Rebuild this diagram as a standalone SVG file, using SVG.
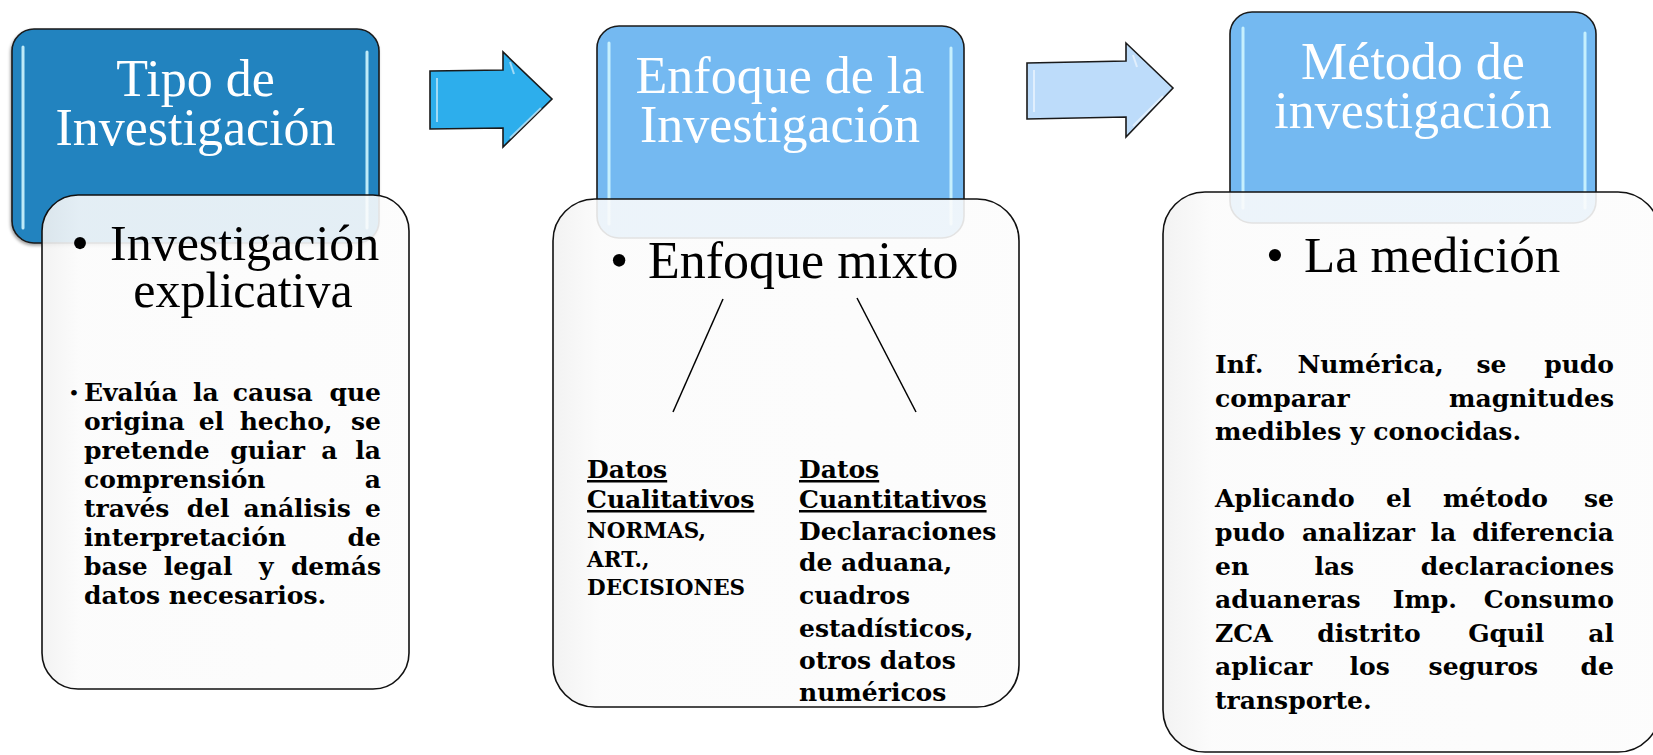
<svg xmlns="http://www.w3.org/2000/svg" width="1653" height="755" viewBox="0 0 1653 755">
<defs>
<style>
.hdr{stroke:#1a1a1a;stroke-width:1.6}
.h1{fill:#2383BF}
.h2{fill:#74B9F1}
.hl{stroke:#CFF6FF;stroke-width:3;stroke-linecap:round;opacity:0.9}
.body{fill:url(#bodyGrad);fill-opacity:0.89;stroke:#111;stroke-width:1.6}
.ht{font-family:"Liberation Serif",serif;font-size:52px;fill:#fff;text-anchor:middle}
.bt{font-family:"Liberation Serif",serif;fill:#000}
.bd{font-family:"DejaVu Serif",serif;font-weight:bold;font-size:25px;fill:#000}
.end{text-anchor:end}
.u{text-decoration:underline}
.conn{stroke:#000;stroke-width:1.5;fill:none}
.arr{stroke:#1a1a1a;stroke-width:1.6;stroke-linejoin:miter}
.bev{fill:none;stroke:#ffffff;stroke-width:2;opacity:0.55}
</style>
<linearGradient id="bodyGrad" x1="0" y1="0" x2="1" y2="0">
<stop offset="0" stop-color="#F1F1F1"/>
<stop offset="0.1" stop-color="#FBFBFB"/>
<stop offset="1" stop-color="#FCFCFC"/>
</linearGradient>
<filter id="sh" x="-10%" y="-10%" width="120%" height="120%">
<feDropShadow dx="-1" dy="2" stdDeviation="1.5" flood-color="#000" flood-opacity="0.35"/>
</filter>
</defs>
<rect width="1653" height="755" fill="#fff"/>

<g id="arrows">
<g id="arrow1">
<polygon class="arr" fill="#2DAEEC" points="430,71 503,70 503,52 552,99 503,147 503,128 430,129"/>
<polyline class="bev" points="437,78 437,122"/>
<polyline class="bev" points="541,108 510,138"/>
<polyline class="bev" points="510,62 514,74"/>
</g>
<g id="arrow2">
<polygon class="arr" fill="#BDDCFA" points="1027,63 1126,61 1126,43 1173,88 1126,137 1126,117 1027,119"/>
<polyline class="bev" points="1034,70 1034,112"/>
<polyline class="bev" points="1163,96 1133,126"/>
<polyline class="bev" points="1133,55 1137,67"/>
</g>
</g>

<g id="node1">
<rect class="hdr h1" filter="url(#sh)" x="12" y="29" width="367" height="214" rx="22"/>
<line class="hl" x1="23" y1="47" x2="23" y2="228"/>
<line class="hl" x1="367" y1="52" x2="367" y2="228"/>
<text class="ht" x="195.5" y="96">Tipo de</text>
<text class="ht" x="195.5" y="145">Investigación</text>
<rect class="body" x="42" y="195" width="367" height="494" rx="36"/>
<text class="bt" x="80" y="260" font-size="50" text-anchor="middle">•</text>
<text class="bt" x="110" y="260" font-size="50">Investigación</text>
<text class="bt" x="243" y="307" font-size="50" text-anchor="middle">explicativa</text>
<text class="bt" x="74" y="401" font-size="24" text-anchor="middle">•</text>
<g class="bd">
<text x="84" y="401">Evalúa</text><text x="193.1" y="401">la</text><text x="232.8" y="401">causa</text><text class="end" x="381" y="401">que</text>
<text x="84" y="430">origina</text><text x="198.7" y="430">el</text><text x="239.7" y="430">hecho,</text><text class="end" x="381" y="430">se</text>
<text x="84" y="459">pretende</text><text x="230.3" y="459">guiar</text><text x="321.2" y="459">a</text><text class="end" x="381" y="459">la</text>
<text x="84" y="488">comprensión</text><text class="end" x="381" y="488">a</text>
<text x="84" y="517">través</text><text x="186.7" y="517">del</text><text x="243.5" y="517">análisis</text><text class="end" x="381" y="517">e</text>
<text x="84" y="546">interpretación</text><text class="end" x="381" y="546">de</text>
<text x="84" y="575">base</text><text x="163.8" y="575">legal</text><text x="258.9" y="575">y</text><text class="end" x="381" y="575">demás</text>
<text x="84" y="604">datos necesarios.</text>
</g>
</g>

<g id="node2">
<rect class="hdr h2" x="597" y="26" width="367" height="212" rx="22"/>
<line class="hl" x1="609" y1="43" x2="609" y2="224"/>
<line class="hl" x1="951" y1="48" x2="951" y2="224"/>
<text class="ht" x="780" y="93">Enfoque de la</text>
<text class="ht" x="780" y="142">Investigación</text>
<rect class="body" x="553" y="199" width="466" height="508" rx="42"/>
<text class="bt" x="619" y="278" font-size="52" text-anchor="middle">•</text>
<text class="bt" x="648" y="278" font-size="52">Enfoque mixto</text>
<g class="bd" font-size="24.5">
<text class="u" x="587" y="478">Datos</text>
<text class="u" x="587" y="508">Cualitativos</text>
<text x="587" y="538" font-size="21.5">NORMAS,</text>
<text x="587" y="567" font-size="21.5">ART.,</text>
<text x="587" y="595" font-size="21.5">DECISIONES</text>
<text class="u" x="799" y="478">Datos</text>
<text class="u" x="799" y="508">Cuantitativos</text>
<text x="799" y="540">Declaraciones</text>
<text x="799" y="571">de aduana,</text>
<text x="799" y="604">cuadros</text>
<text x="799" y="637">estadísticos,</text>
<text x="799" y="669">otros datos</text>
<text x="799" y="701">numéricos</text>
</g>
</g>

<g id="node3">
<rect class="hdr h2" x="1230" y="12" width="366" height="211" rx="22"/>
<line class="hl" x1="1243" y1="28" x2="1243" y2="208"/>
<line class="hl" x1="1585" y1="33" x2="1585" y2="208"/>
<text class="ht" x="1413" y="79">Método de</text>
<text class="ht" x="1413" y="128">investigación</text>
<rect class="body" x="1163" y="192" width="497" height="560" rx="42"/>
<text class="bt" x="1275" y="272" font-size="51" text-anchor="middle">•</text>
<text class="bt" x="1304" y="272" font-size="51">La medición</text>
<g class="bd">
<text x="1215" y="373">Inf.</text><text x="1297.5" y="373">Numérica,</text><text x="1476.4" y="373">se</text><text class="end" x="1614" y="373">pudo</text>
<text x="1215" y="406.6">comparar</text><text class="end" x="1614" y="406.6">magnitudes</text>
<text x="1215" y="440.2">medibles y conocidas.</text>
<text x="1215" y="507.4">Aplicando</text><text x="1385.9" y="507.4">el</text><text x="1443.1" y="507.4">método</text><text class="end" x="1614" y="507.4">se</text>
<text x="1215" y="541">pudo</text><text x="1301.9" y="541">analizar</text><text x="1430.6" y="541">la</text><text class="end" x="1614" y="541">diferencia</text>
<text x="1215" y="574.6">en</text><text x="1314.4" y="574.6">las</text><text class="end" x="1614" y="574.6">declaraciones</text>
<text x="1215" y="608.2">aduaneras</text><text x="1392.7" y="608.2">Imp.</text><text class="end" x="1614" y="608.2">Consumo</text>
<text x="1215" y="641.8">ZCA</text><text x="1317.3" y="641.8">distrito</text><text x="1468.2" y="641.8">Gquil</text><text class="end" x="1614" y="641.8">al</text>
<text x="1215" y="675.4">aplicar</text><text x="1349.5" y="675.4">los</text><text x="1428.6" y="675.4">seguros</text><text class="end" x="1614" y="675.4">de</text>
<text x="1215" y="709">transporte.</text>
</g>
</g>

<g id="connectors">
<line class="conn" x1="723" y1="299" x2="673" y2="412"/>
<line class="conn" x1="857" y1="298" x2="916" y2="412"/>
</g>
</svg>
